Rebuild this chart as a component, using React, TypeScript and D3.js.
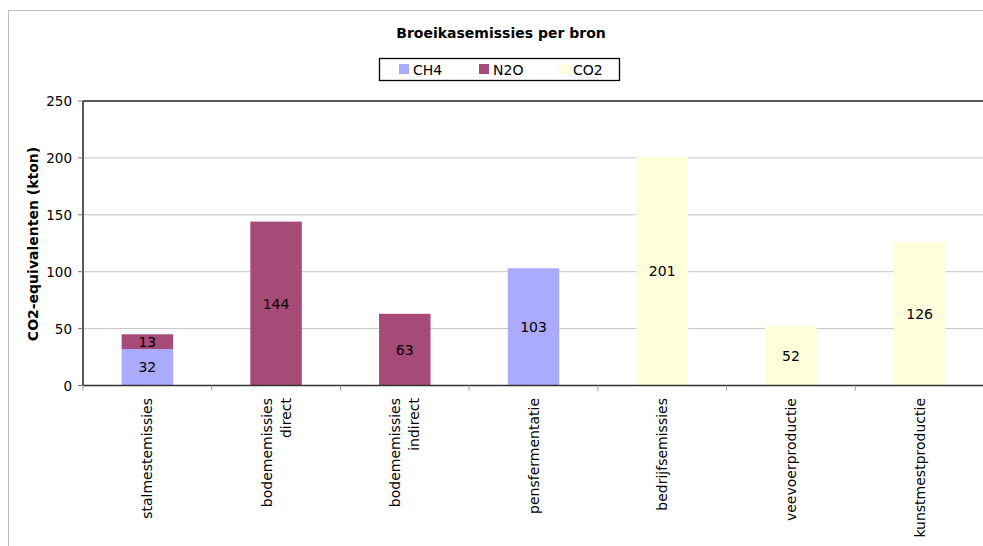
import React from "react";
import * as d3 from "d3";

const categories = [
  ["stalmestemissies"],
  ["bodememissies", "direct"],
  ["bodememissies", "indirect"],
  ["pensfermentatie"],
  ["bedrijfsemissies"],
  ["veevoerproductie"],
  ["kunstmestproductie"],
];
const seriesNames = ["CH4", "N2O", "CO2"];
const seriesColors = ["#aaaaff", "#a64a78", "#fefedb"];
const ch4 = [32, 0, 0, 103, 0, 0, 0];
const n2o = [13, 144, 63, 0, 0, 0, 0];
const co2 = [0, 0, 0, 0, 201, 52, 126];
const yTicks = [0, 50, 100, 150, 200, 250];

const W = 983;
const H = 546;
const FONT = "'DejaVu Sans', Verdana, sans-serif";

export default function App() {
  const left = 83;
  const right = 984;
  const top = 101;
  const bottom = 385.5;
  const x = d3
    .scaleBand<number>()
    .domain(d3.range(categories.length))
    .range([left, right])
    .paddingInner(0.6)
    .paddingOuter(0.3);
  const step = x.step();
  const y = d3.scaleLinear().domain([0, 250]).range([bottom, top]);

  const rows = categories.map((_, i) => ({ i, CH4: ch4[i], N2O: n2o[i], CO2: co2[i] }));
  const stack = d3.stack<any>().keys(seriesNames)(rows);

  const legendItems = [
    { name: "CH4", sx: 399, tx: 413 },
    { name: "N2O", sx: 479, tx: 493 },
    { name: "CO2", sx: 559, tx: 573 },
  ];

  return (
    <div>
      <style>{`body{margin:0}`}</style>
      <svg width={W} height={H} style={{ display: "block", fontFamily: FONT }}>
        <rect x={0} y={0} width={W} height={H} fill="#fff" />
        <rect x={8.5} y={10.5} width={1100} height={1100} fill="none" stroke="#bdbdbd" />
        <text x={501} y={38} textAnchor="middle" fontWeight="bold" fontSize={14} fill="#000">
          Broeikasemissies per bron
        </text>
        {/* legend */}
        <rect x={379.5} y={58.5} width={240} height={22} fill="#fff" stroke="#000" strokeWidth={1.3} />
        {legendItems.map((d, k) => (
          <g key={d.name}>
            <rect x={d.sx} y={64} width={10} height={10} fill={seriesColors[k]} />
            <text x={d.tx} y={74.5} fontSize={14} fill="#000">
              {d.name}
            </text>
          </g>
        ))}
        {/* gridlines */}
        {yTicks.slice(1, -1).map((t) => (
          <line key={t} x1={left} x2={right} y1={y(t)} y2={y(t)} stroke="#c4c4c4" strokeWidth={1} />
        ))}
        {/* bars */}
        {stack.map((s, k) => (
          <g key={seriesNames[k]}>
            {s.map((d, i) =>
              d[1] - d[0] > 0 ? (
                <rect
                  key={i}
                  x={x(i)!}
                  y={y(d[1])}
                  width={x.bandwidth()}
                  height={y(d[0]) - y(d[1])}
                  fill={seriesColors[k]}
                />
              ) : null
            )}
          </g>
        ))}
        {stack.map((s, k) =>
          s.map((d, i) =>
            d[1] - d[0] > 0 ? (
              <text
                key={`${k}-${i}`}
                x={x(i)! + x.bandwidth() / 2}
                y={(y(d[0]) + y(d[1])) / 2 + 5}
                textAnchor="middle"
                fontSize={14}
                fill="#000"
              >
                {d[1] - d[0]}
              </text>
            ) : null
          )
        )}
        {/* axes */}
        <line x1={left} x2={right} y1={top} y2={top} stroke="#222" strokeWidth={1.5} />
        <line x1={left} x2={left} y1={top} y2={bottom} stroke="#222" strokeWidth={1.5} />
        <line x1={left} x2={right} y1={bottom} y2={bottom} stroke="#333" strokeWidth={1.5} />
        {yTicks.map((t) => (
          <g key={t}>
            <line x1={left - 5} x2={left} y1={y(t)} y2={y(t)} stroke="#777" />
            <text x={72} y={y(t) + 5} textAnchor="end" fontSize={13.5} fill="#000">
              {t}
            </text>
          </g>
        ))}
        {d3.range(categories.length + 1).map((i) => (
          <line
            key={i}
            x1={left + i * step}
            x2={left + i * step}
            y1={bottom}
            y2={bottom + 5}
            stroke="#999"
          />
        ))}
        {categories.map((lines, i) => {
          const cx = x(i)! + x.bandwidth() / 2;
          const lh = 19;
          return lines.map((ln, j) => {
            const lx = cx + (j - (lines.length - 1) / 2) * lh + 5;
            return (
              <text
                key={`${i}-${j}`}
                transform={`translate(${lx},398) rotate(-90)`}
                textAnchor="end"
                fontSize={14}
                fill="#000"
              >
                {ln}
              </text>
            );
          });
        })}
        <text
          transform={`translate(38,244) rotate(-90)`}
          textAnchor="middle"
          fontWeight="bold"
          fontSize={14}
          fill="#000"
        >
          CO2-equivalenten (kton)
        </text>
      </svg>
    </div>
  );
}
